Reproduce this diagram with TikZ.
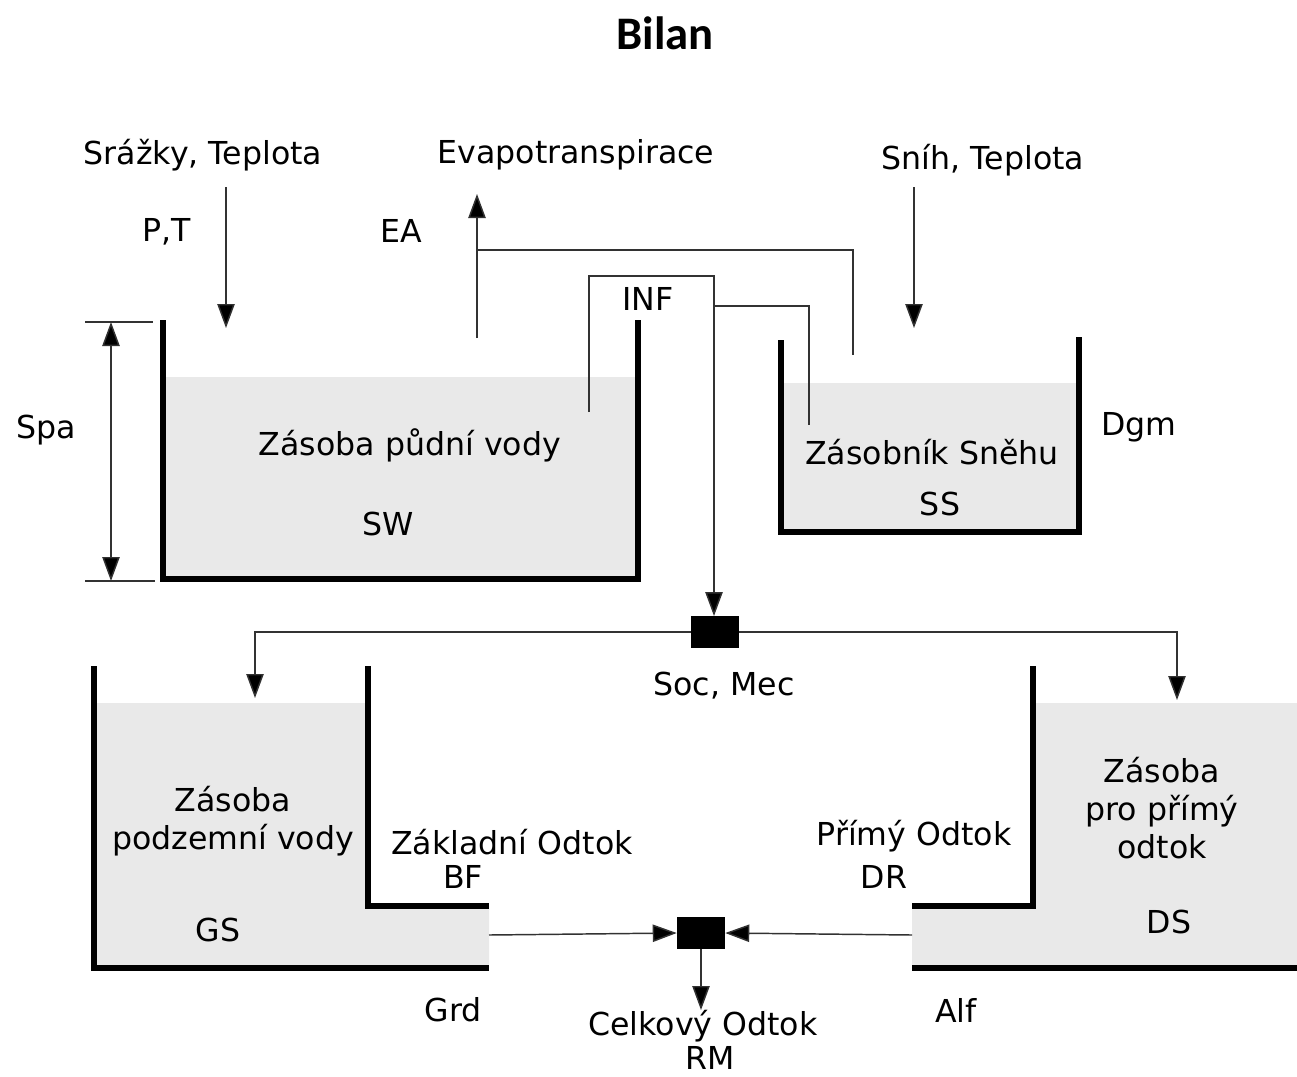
\documentclass[tikz,border=0pt]{standalone}
\usepackage{fontspec}
\setmainfont{DejaVu Sans}
\newfontfamily\titlefont{Carlito}
\usetikzlibrary{arrows.meta}
\definecolor{tankfill}{RGB}{233,233,233}
\definecolor{linegrey}{RGB}{50,50,50}
\begin{document}
\begin{tikzpicture}[x=0.75pt,y=-0.75pt,
  lbl/.style={font=\fontsize{23.7}{28.5}\selectfont, inner sep=0pt, align=center},
  wall/.style={line width=3.8pt, black, line join=miter},
  flow/.style={line width=1.1pt, linegrey},
  arr/.style={flow, -{Triangle[length=18pt,width=13pt,fill=black]}},
  dimarr/.style={flow, {Triangle[length=18pt,width=13pt,fill=black]}-{Triangle[length=18pt,width=13pt,fill=black]}},
  junction/.style={fill=black, minimum width=36pt, minimum height=23.5pt, inner sep=0pt},
  tank/.style={fill=tankfill, draw=none}]
\fill[white] (0,0) rectangle (1297,1076);
\useasboundingbox (0,0) rectangle (1297,1076);

% tank fills
\fill[tank] (163,377) rectangle (638,579);
\fill[tank] (781,383) rectangle (1079,532);
\fill[tank] (94,703) -- (368,703) -- (368,906) -- (489,906) -- (489,968) -- (94,968) -- cycle;
\fill[tank] (1033,703) -- (1297,703) -- (1297,968) -- (912,968) -- (912,906) -- (1033,906) -- cycle;

% walls
\draw[wall] (163,320) -- (163,579) -- (638,579) -- (638,320);
\draw[wall] (781,340) -- (781,532) -- (1079,532) -- (1079,337);
\draw[wall] (94,666) -- (94,968) -- (489,968);
\draw[wall] (368,666) -- (368,906) -- (489,906);
\draw[wall] (1033,666) -- (1033,906) -- (912,906);
\draw[wall] (912,968) -- (1297,968);

% title
\node[font=\titlefont\bfseries\fontsize{35}{40}\selectfont, inner sep=0pt] (title) at (665,33) {Bilan};

% labels
\node[lbl] (srazky) at (203,155) {Srážky, Teplota};
\node[lbl] (evapo) at (576,155) {Evapotranspirace};
\node[lbl] (snih) at (983,160) {Sníh, Teplota};
\node[lbl] (pt) at (167,232) {P,T};
\node[lbl] (ea) at (401,231) {EA};
\node[lbl] (inf) at (648,299) {INF};
\node[lbl] (spa) at (46,430) {Spa};
\node[lbl] (swname) at (410,445) {Zásoba půdní vody};
\node[lbl] (sw) at (388,524) {SW};
\node[lbl] (dgm) at (1139,427) {Dgm};
\node[lbl] (ssname) at (932,452) {Zásobník Sněhu};
\node[lbl] (ss) at (940,504) {SS};
\node[lbl] (socmec) at (724,686) {Soc, Mec};
\node[lbl] (gsname) at (233,821) {Zásoba\\podzemní vody};
\node[lbl] (bfname) at (512,842) {Základní Odtok};
\node[lbl] (bf) at (463,877) {BF};
\node[lbl] (drname) at (914,836) {Přímý Odtok};
\node[lbl] (dr) at (884,877) {DR};
\node[lbl] (dsname) at (1162,808) {Zásoba\\pro přímý\\odtok};
\node[lbl] (gs) at (218,930) {GS};
\node[lbl] (ds) at (1169,922) {DS};
\node[lbl] (grd) at (453,1010) {Grd};
\node[lbl] (alf) at (956,1010) {Alf};
\node[lbl] (rmname) at (703,1026) {Celkový Odtok};
\node[lbl] (rm) at (710,1058) {RM};

% junctions
\node[junction] (J1) at (715,632) {};
\node[junction] (J2) at (701,933) {};

% coordinates
\coordinate (spaT1) at (85,322);  \coordinate (spaT2) at (153,322);
\coordinate (spaB1) at (85,581);  \coordinate (spaB2) at (155,581);
\coordinate (spaTop) at (111,322); \coordinate (spaBot) at (111,581);
\coordinate (ptS) at (226,187);   \coordinate (ptE) at (226,328);
\coordinate (snS) at (914,187);   \coordinate (snE) at (914,328);
\coordinate (eaS) at (477,338);   \coordinate (eaE) at (477,194);
\coordinate (eaJ) at (477,250);   \coordinate (eaSS) at (853,355);
\coordinate (infL) at (589,412);  \coordinate (infTR) at (714,276);
\coordinate (infJ) at (714,306);  \coordinate (infSS) at (809,425);
\coordinate (gsIn) at (255,698);  \coordinate (dsIn) at (1177,700);
\coordinate (gsOut) at (489,935); \coordinate (dsOut) at (912,935);
\coordinate (rmOut) at (701,1010);

% dimension Spa
\draw[flow] (spaT1) -- (spaT2);
\draw[flow] (spaB1) -- (spaB2);
\draw[dimarr] (spaTop) -- (spaBot);

% flows
\draw[arr] (ptS) -- (ptE);
\draw[arr] (snS) -- (snE);
\draw[arr] (eaS) -- (eaE);
\draw[flow] (eaJ) -| (eaSS);
\draw[arr] (infL) |- (infTR) -- (infTR |- J1.north);
\draw[flow] (infJ) -| (infSS);
\draw[arr] (J1.west) -| (gsIn);
\draw[arr] (J1.east) -| (dsIn);
\draw[arr] (gsOut) -- (J2.west);
\draw[arr] (dsOut) -- (J2.east);
\draw[arr] (J2.south) -- (rmOut);
\end{tikzpicture}
\end{document}
